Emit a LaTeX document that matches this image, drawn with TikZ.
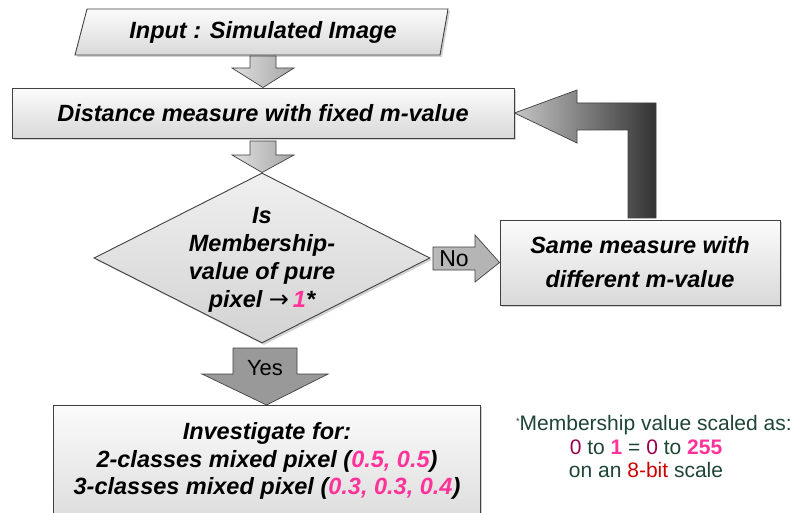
\documentclass[tikz,border=0pt]{standalone}
\usepackage{fontspec}
\setmainfont{Liberation Sans}
\usetikzlibrary{shapes.geometric,shadows,calc}
\definecolor{pinkc}{HTML}{FF3399}
\definecolor{dgreen}{HTML}{1E4535}
\definecolor{dmag}{HTML}{990050}
\definecolor{redc}{HTML}{CC0000}
\definecolor{boxline}{HTML}{404040}
\begin{document}
\begin{tikzpicture}[x=1pt,y=-1pt,
  boxsh/.style={draw=boxline, line width=0.9pt, top color=gray!3, bottom color=gray!30,
    drop shadow={shadow xshift=2pt,shadow yshift=-2pt,opacity=0.35}},
  btext/.style={font=\fontsize{23.5}{28}\selectfont\bfseries\itshape, align=center, inner sep=0pt},
  downarrow/.style={draw=boxline, line width=0.7pt, left color=gray!25, right color=gray!70},
  sidearrow/.style={draw=boxline, line width=0.7pt, left color=gray!55, middle color=gray!80, right color=gray!60},
  elbow/.style={draw=boxline, line width=0.7pt, left color=gray!45, right color=black!80},
  yesarrow/.style={draw=boxline, line width=0.7pt, left color=gray!80, middle color=gray!25, right color=gray!80},
  note/.style={font=\fontsize{21}{22}\selectfont, text=dgreen, inner sep=0pt}]
\useasboundingbox (0,0) rectangle (795,513);
\fill[white] (0,0) rectangle (795,513);

% input parallelogram
\path[boxsh] (87,9) -- (448,9) -- (440,55) -- (75,55) -- cycle;
\node[btext] (in) at (263,32) {Input : Simulated Image};

% distance box
\node (dist) [boxsh, rectangle, minimum width=502pt, minimum height=50pt, inner sep=1pt] at (263,113) {};
\node[btext] at (dist.center) {Distance measure with fixed m-value};

% decision diamond
\node (dec) [boxsh, diamond, minimum width=336pt, minimum height=170pt, inner sep=1pt,
  top color=gray!12, bottom color=gray!35] at (262,258) {};
\node[btext] at (262,260) {Is\\Membership-\\value of pure\\pixel {\normalfont\fontspec{DejaVu Sans}\fontsize{24}{24}\selectfont→}\,\textcolor{pinkc}{1}*};

% same measure box
\node (same) [boxsh, rectangle, minimum width=280pt, minimum height=85pt, inner sep=1pt] at (640,262.5) {};
\node[btext, font=\fontsize{23.5}{34}\selectfont\bfseries\itshape] at (same.center) {Same measure with\\different m-value};

% investigate box
\node (inv) [boxsh, rectangle, minimum width=427pt, minimum height=130pt, inner sep=1pt, anchor=north] at (266.5,405) {};
\node[btext, font=\fontsize{23.5}{27.5}\selectfont\bfseries\itshape] at (267,461) {Investigate for:\\
2-classes mixed pixel (\textcolor{pinkc}{0.5, 0.5})\\
3-classes mixed pixel (\textcolor{pinkc}{0.3, 0.3, 0.4})};

% down arrow 1: in -> dist
\path[downarrow] (250,56) -- (276,56) -- (276,68) -- (294,68)
  -- (dist.north) -- (232,68) -- (250,68) -- cycle;
% down arrow 2: dist -> dec
\path[downarrow] (250,141) -- (276,141) -- (276,155) -- (294,155)
  -- (dec.north) -- (232,155) -- (250,155) -- cycle;

% No arrow: dec -> same
\path[sidearrow] (433,247) -- (475,247) -- (475,235) -- (same.west) -- (475,282) -- (475,270) -- (433,270) -- cycle;
\node[font=\fontsize{23}{23}\selectfont, inner sep=0pt] (no) at (454,259) {No};

% elbow arrow: same -> dist
\path[elbow] (628,218) -- (628,130) -- (577,130) -- (577,143) -- (dist.east) -- (577,90)
  -- (577,103) -- (656,103) -- (656,218) -- cycle;

% Yes arrow: dec -> inv
\path[yesarrow] (233,348) -- (297,348) -- (297,374) -- (328,374) -- (inv.north) -- (202,374) -- (233,374) -- cycle;
\node[font=\fontsize{22}{22}\selectfont, inner sep=0pt] (yes) at (265,368) {Yes};

% footnote
\node[note, anchor=west] (n1) at (516,425) {\raisebox{6pt}{\fontsize{9}{9}\selectfont*}Membership value scaled as:};
\node[note] (n2) at (646,447) {\textcolor{dmag}{0} to \textcolor{pinkc}{\bfseries 1} = \textcolor{dmag}{0} to \textcolor{pinkc}{\bfseries 255}};
\node[note] (n3) at (646,470) {on an \textcolor{redc}{8-bit} scale};
\end{tikzpicture}
\end{document}
